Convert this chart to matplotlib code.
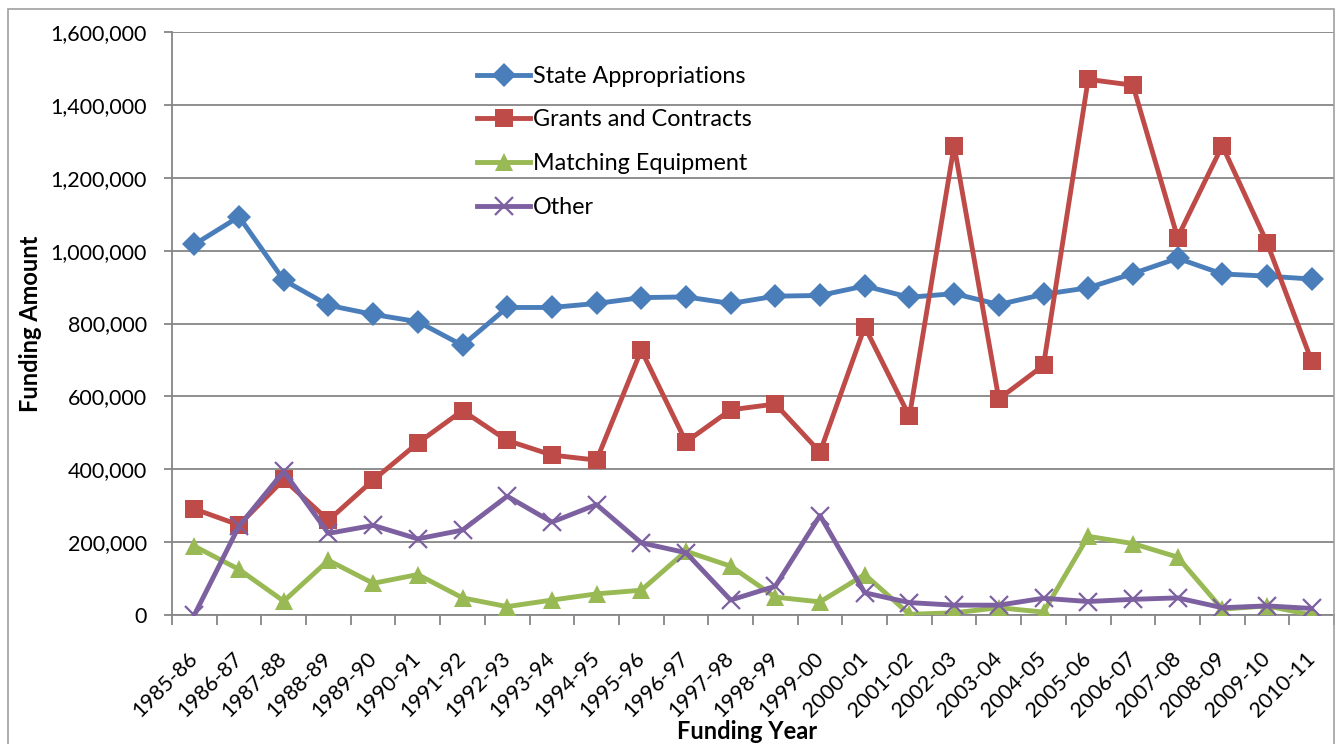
"""
Funding by source, 1985-86 to 2010-11 (line chart).
"""

import matplotlib
matplotlib.use('Agg')
import matplotlib.pyplot as plt
from matplotlib.patches import Rectangle
from matplotlib.ticker import FuncFormatter, MultipleLocator

# ============== Data ==============
YEARS = ['1985-86', '1986-87', '1987-88', '1988-89', '1989-90', '1990-91',
         '1991-92', '1992-93', '1993-94', '1994-95', '1995-96', '1996-97',
         '1997-98', '1998-99', '1999-00', '2000-01', '2001-02', '2002-03',
         '2003-04', '2004-05', '2005-06', '2006-07', '2007-08', '2008-09',
         '2009-10', '2010-11']

STATE_APPROPRIATIONS = [1017000, 1093000, 919000, 850000, 825000, 805000,
                        740000, 844000, 844000, 855000, 871000, 873000,
                        855000, 875000, 877000, 903000, 872000, 882000,
                        852000, 880000, 898000, 937000, 979000, 936000,
                        930000, 922000]

GRANTS_AND_CONTRACTS = [291000, 247000, 372000, 260000, 370000, 472000,
                        561000, 479000, 439000, 425000, 727000, 475000,
                        563000, 579000, 447000, 791000, 545000, 1288000,
                        593000, 685000, 1470000, 1454000, 1036000, 1288000,
                        1022000, 697000]

MATCHING_EQUIPMENT = [189000, 125000, 38000, 150000, 87000, 111000,
                      47000, 23000, 41000, 58000, 68000, 175000,
                      134000, 49000, 36000, 111000, 2000, 6000,
                      20000, 8000, 216000, 196000, 159000, 16000,
                      25000, 0]

OTHER = [0, 244000, 394000, 224000, 246000, 209000,
         233000, 326000, 255000, 303000, 198000, 171000,
         41000, 79000, 273000, 61000, 34000, 27000,
         27000, 46000, 37000, 43000, 47000, 20000,
         25000, 18000]

SERIES = [
    ('State Appropriations', STATE_APPROPRIATIONS, '#4A7EBB', 'D', 12.5),
    ('Grants and Contracts', GRANTS_AND_CONTRACTS, '#BE4B48', 's', 12.5),
    ('Matching Equipment', MATCHING_EQUIPMENT, '#98B954', '^', 13),
    ('Other', OTHER, '#7D60A0', 'x', 12.5),
]

GRID_COLOR = '#868686'
W, H = 1339, 744


def main():
    plt.rcParams['font.family'] = ['Lato', 'DejaVu Sans']

    fig = plt.figure(figsize=(W / 100, H / 100), dpi=100)
    ax = fig.add_axes([172 / W, 1 - 615 / H, (1334 - 172) / W, (615 - 32) / H])

    # Excel-style chart border (bottom edge falls outside the image)
    fig.patches.append(Rectangle((8 / W, -10 / H), 1326 / W, 745 / H,
                                 transform=fig.transFigure, fill=False,
                                 edgecolor='#A0A0A0', linewidth=1.2))

    x = list(range(len(YEARS)))
    for name, values, color, marker, size in SERIES:
        mew = 1.6 if marker == 'x' else 0
        ax.plot(x, values, color=color, linewidth=3.5, marker=marker,
                markersize=size, markeredgewidth=mew,
                markeredgecolor=color, label=name, zorder=3)

    ax.set_xlim(-0.5, len(YEARS) - 0.5)
    ax.set_ylim(0, 1600000)

    ax.yaxis.set_major_locator(MultipleLocator(200000))
    ax.yaxis.set_major_formatter(FuncFormatter(lambda v, p: f'{int(v):,}'))
    ax.grid(axis='y', color=GRID_COLOR, linewidth=1.3, zorder=0)
    ax.set_axisbelow(True)

    ax.set_xticks(x)
    ax.set_xticklabels(YEARS, rotation=45, ha='right', va='center',
                       rotation_mode='anchor')
    ax.set_xticks([i - 0.5 for i in range(len(YEARS) + 1)], minor=True)
    ax.tick_params(axis='x', which='major', length=0, pad=29, labelsize=15.5)
    ax.tick_params(axis='x', which='minor', length=7, color=GRID_COLOR, width=1.3)
    ax.tick_params(axis='y', length=6, pad=12, color=GRID_COLOR, width=1.3,
                   labelsize=15.5)

    for side in ('top', 'right'):
        ax.spines[side].set_visible(False)
    for side in ('left', 'bottom'):
        ax.spines[side].set_color(GRID_COLOR)
        ax.spines[side].set_linewidth(1.3)

    ax.set_xlabel('Funding Year', fontsize=17, fontweight='bold')
    ax.set_ylabel('Funding Amount', fontsize=17, fontweight='bold')
    ax.xaxis.set_label_coords(575 / 1162, -105 / 583)
    ax.yaxis.set_label_coords(-130 / 1162, 0.5)

    ax.legend(loc='upper left', bbox_to_anchor=(0.2545, 0.958), frameon=False,
              fontsize=16.8, handlelength=2.27, handletextpad=0.12,
              labelspacing=0.97, borderaxespad=0)

    fig.savefig('out.png', dpi=100)


if __name__ == '__main__':
    main()
